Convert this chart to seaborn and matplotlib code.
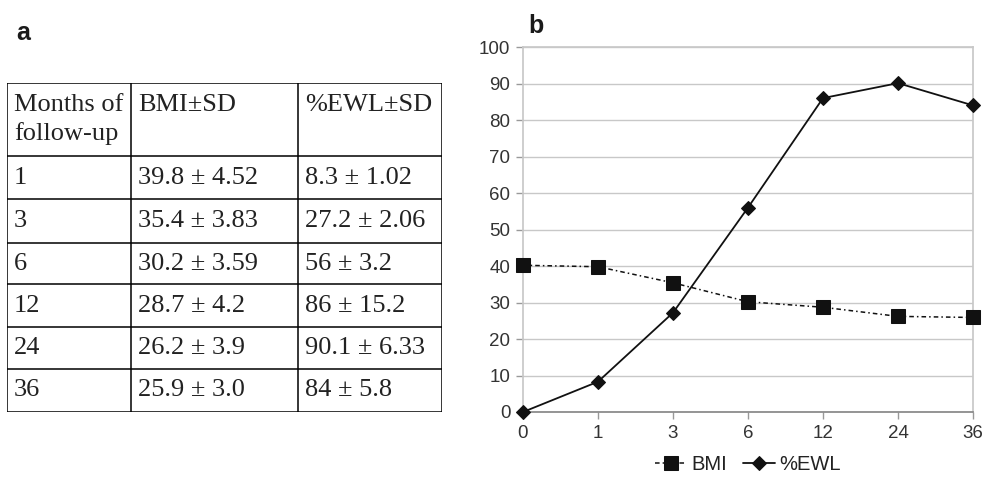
import matplotlib
matplotlib.use("Agg")
import matplotlib.pyplot as plt
import numpy as np
import pandas as pd
import seaborn as sns

# chart data (panel b)
MONTHS = ["0", "1", "3", "6", "12", "24", "36"]
BMI = [40.2, 39.8, 35.4, 30.2, 28.7, 26.2, 25.9]
EWL = [0, 8.3, 27.2, 56, 86, 90.1, 84]

# table data (panel a)
TABLE_HEADER = ["Months of\nfollow-up", "BMI±SD", "%EWL±SD"]
TABLE_MONTHS = ["1", "3", "6", "12", "24", "36"]
TABLE_BMI = ["39.8 ± 4.52", "35.4 ± 3.83", "30.2 ± 3.59", "28.7 ± 4.2", "26.2 ± 3.9", "25.9 ± 3.0"]
TABLE_EWL = ["8.3 ± 1.02", "27.2 ± 2.06", "56 ± 3.2", "86 ± 15.2", "90.1 ± 6.33", "84 ± 5.8"]

W, H = 984, 478
sns.set_theme(style="white")
plt.rcParams["font.family"] = ["Liberation Sans", "DejaVu Sans"]

fig = plt.figure(figsize=(W / 100, H / 100), dpi=100)


def fig_axes(x0, y0, x1, y1):
    # pixel box (top-left origin) -> figure axes
    return fig.add_axes([x0 / W, 1 - y1 / H, (x1 - x0) / W, (y1 - y0) / H])


# ---- panel a: table ----
tab = fig_axes(7, 83, 442, 412)
tab.set_xlim(0, 435)
tab.set_ylim(329, 0)
tab.axis("off")
col_edges = [0, 124, 291, 435]
row_edges = [0, 73, 116, 160, 201, 244, 286, 329]
tab.hlines(row_edges, 0, 435, color="black", lw=1.1)
tab.vlines(col_edges, 0, 329, color="black", lw=1.1)

serif = ["Liberation Serif", "DejaVu Serif"]
for j, head in enumerate(TABLE_HEADER):
    tab.text(col_edges[j] + 7, 11, head, family=serif, fontsize=19,
             va="top", ha="left", color="#222222", linespacing=1.35)

for i, cells in enumerate(zip(TABLE_MONTHS, TABLE_BMI, TABLE_EWL)):
    yc = (row_edges[i + 1] + row_edges[i + 2]) / 2
    for j, cell in enumerate(cells):
        tab.text(col_edges[j] + 7, yc, cell, family=serif, fontsize=19,
                 va="center", ha="left", color="#222222")

fig.text(16 / W, 1 - 40 / H, "a", fontsize=18, fontweight="bold", color="#1a1a1a")

# ---- panel b: line chart ----
ax = fig_axes(523, 47, 973, 412)
df = pd.DataFrame({"pos": np.arange(len(MONTHS)), "BMI": BMI, "%EWL": EWL})

sns.lineplot(data=df, x="pos", y="BMI", ax=ax, color="#111111", lw=1.1,
             linestyle=(0, (3, 2, 1, 2)), marker="s", markersize=10,
             markeredgecolor="#111111", label="BMI", clip_on=False, zorder=3)
sns.lineplot(data=df, x="pos", y="%EWL", ax=ax, color="#111111", lw=1.3,
             marker="D", markersize=7.5, markeredgecolor="#111111",
             label="%EWL", clip_on=False, zorder=4)

ax.set_xlim(0, len(MONTHS) - 1)
ax.set_ylim(0, 100)
ax.set_xticks(df["pos"])
ax.set_xticklabels(MONTHS)
ax.set_yticks(range(0, 101, 10))
ax.set_xlabel("")
ax.set_ylabel("")
ax.grid(axis="y", color="#c8c8c8", lw=1)
ax.set_axisbelow(True)
for side in ["left", "right", "top"]:
    ax.spines[side].set_color("#c8c8c8")
ax.spines["bottom"].set_color("#888888")
ax.tick_params(axis="both", labelsize=13.5, labelcolor="#333333",
               color="#999999", length=5, width=1, direction="out",
               left=True, bottom=True, pad=4)

ax.legend(loc="center", bbox_to_anchor=(0.5, -0.145), ncol=2,
          frameon=False, fontsize=14.5, handlelength=1.6, handletextpad=0.2,
          columnspacing=0.8, labelcolor="#222222", borderaxespad=0, borderpad=0)

fig.text(528 / W, 1 - 33 / H, "b", fontsize=18, fontweight="bold", color="#1a1a1a")

fig.savefig("out.png", dpi=100)
